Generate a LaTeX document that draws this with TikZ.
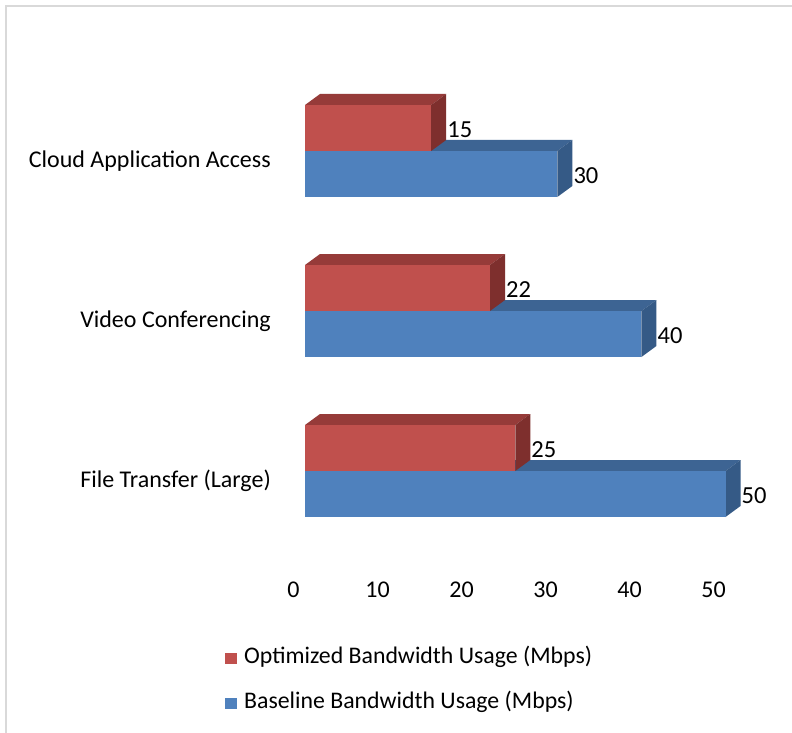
\documentclass[tikz,border=0pt]{standalone}
\usepackage{fontspec}
\setmainfont{Carlito}
\definecolor{redfront}{HTML}{C0504D}
\definecolor{redtop}{HTML}{963B39}
\definecolor{redside}{HTML}{7E2F2D}
\definecolor{bluefront}{HTML}{4F81BD}
\definecolor{bluetop}{HTML}{3D6493}
\definecolor{blueside}{HTML}{355A86}
\definecolor{framegray}{HTML}{D9D9D9}
\tikzset{
  vlabel/.style={anchor=west, inner sep=0pt, font=\fontsize{24.5}{27}\selectfont},
  catlabel/.style={anchor=east, inner sep=0pt, font=\fontsize{24}{27}\selectfont},
  ticklabel/.style={anchor=center, inner sep=0pt, font=\fontsize{24}{27}\selectfont},
  leglabel/.style={anchor=west, inner sep=0pt, font=\fontsize{23.8}{27}\selectfont},
}
\newcommand\barthreed[6]{% #1 top y, #2 value, #3 front, #4 top, #5 side, #6 label name
  \pgfmathsetmacro\xr{305+8.41*#2}
  \fill[#4] (305,#1) -- (\xr,#1) -- (\xr+15,#1-11) -- (320,#1-11) -- cycle;
  \fill[#5] (\xr,#1) -- (\xr+15,#1-11) -- (\xr+15,#1+35) -- (\xr,#1+46) -- cycle;
  \fill[#3] (305,#1) rectangle (\xr,#1+46);
  \node[vlabel] (#6) at (\xr+16,#1+25) {#2};
}
\begin{document}
\begin{tikzpicture}[x=1pt,y=-1pt]
\useasboundingbox (0,0) rectangle (792,733);
\clip (0,0) rectangle (792,733);
\fill[white] (0,0) rectangle (792,733);
\draw[framegray, line width=1.5pt] (6,6) rectangle (820,760);

% group 1
\barthreed{151}{30}{bluefront}{bluetop}{blueside}{v1b}
\barthreed{105}{15}{redfront}{redtop}{redside}{v1r}
% group 2
\barthreed{311}{40}{bluefront}{bluetop}{blueside}{v2b}
\barthreed{265}{22}{redfront}{redtop}{redside}{v2r}
% group 3
\barthreed{471}{50}{bluefront}{bluetop}{blueside}{v3b}
\barthreed{425}{25}{redfront}{redtop}{redside}{v3r}

\node[catlabel] (c1) at (271,161) {Cloud Application Access};
\node[catlabel] (c2) at (271,321) {Video Conferencing};
\node[catlabel] (c3) at (271,481) {File Transfer (Large)};

\foreach \v in {0,10,20,30,40,50}{
  \node[ticklabel] (t\v) at (293.5+8.4*\v,590) {\v};
}

\fill[redfront] (225,653) rectangle (237,664);
\node[leglabel] (l1) at (244,657) {Optimized Bandwidth Usage (Mbps)};
\fill[bluefront] (225,698) rectangle (237,709);
\node[leglabel] (l2) at (244,702) {Baseline Bandwidth Usage (Mbps)};
\end{tikzpicture}
\end{document}
